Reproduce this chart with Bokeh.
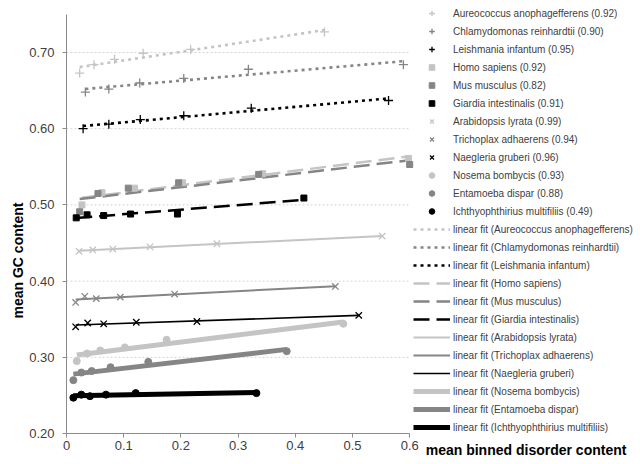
import numpy as np
from bokeh.plotting import figure
from bokeh.models import (Legend, LegendItem, FixedTicker, NumeralTickFormatter, Label)
from bokeh.embed import file_html
from bokeh.resources import INLINE

# ---------------- data ----------------
names = ["Aureococcus anophagefferens", "Chlamydomonas reinhardtii", "Leishmania infantum",
         "Homo sapiens", "Mus musculus", "Giardia intestinalis",
         "Arabidopsis lyrata", "Trichoplax adhaerens", "Naegleria gruberi",
         "Nosema bombycis", "Entamoeba dispar", "Ichthyophthirius multifiliis"]
r_values = ["0.92", "0.90", "0.95", "0.92", "0.82", "0.91",
            "0.99", "0.94", "0.96", "0.93", "0.88", "0.49"]

aur_x = [0.023, 0.048, 0.084, 0.134, 0.217, 0.451]
aur_y = [0.673, 0.684, 0.691, 0.699, 0.704, 0.727]
chl_x = [0.033, 0.074, 0.128, 0.205, 0.318, 0.589]
chl_y = [0.648, 0.652, 0.660, 0.666, 0.678, 0.684]
lei_x = [0.029, 0.074, 0.129, 0.205, 0.323, 0.563]
lei_y = [0.600, 0.606, 0.612, 0.617, 0.627, 0.637]
hom_x = [0.027, 0.062, 0.119, 0.203, 0.343, 0.598]
hom_y = [0.500, 0.516, 0.522, 0.529, 0.541, 0.561]
mus_x = [0.023, 0.055, 0.108, 0.196, 0.336, 0.600]
mus_y = [0.491, 0.515, 0.522, 0.529, 0.540, 0.553]
gia_x = [0.017, 0.036, 0.065, 0.112, 0.194, 0.415]
gia_y = [0.483, 0.487, 0.486, 0.488, 0.488, 0.509]
ara_x = [0.022, 0.046, 0.081, 0.146, 0.263, 0.552]
ara_y = [0.439, 0.441, 0.442, 0.445, 0.449, 0.459]
tri_x = [0.016, 0.032, 0.052, 0.094, 0.189, 0.470]
tri_y = [0.372, 0.380, 0.377, 0.379, 0.383, 0.393]
nae_x = [0.016, 0.037, 0.065, 0.122, 0.228, 0.511]
nae_y = [0.340, 0.345, 0.344, 0.346, 0.347, 0.355]
nos_x = [0.018, 0.036, 0.059, 0.102, 0.175, 0.484]
nos_y = [0.295, 0.305, 0.309, 0.313, 0.323, 0.344]
ent_x = [0.012, 0.026, 0.044, 0.077, 0.143, 0.385]
ent_y = [0.270, 0.280, 0.282, 0.287, 0.294, 0.308]
ich_x = [0.012, 0.026, 0.041, 0.069, 0.121, 0.332]
ich_y = [0.247, 0.251, 0.249, 0.251, 0.253, 0.253]

series_x = [aur_x, chl_x, lei_x, hom_x, mus_x, gia_x, ara_x, tri_x, nae_x, nos_x, ent_x, ich_x]
series_y = [aur_y, chl_y, lei_y, hom_y, mus_y, gia_y, ara_y, tri_y, nae_y, nos_y, ent_y, ich_y]

x_ticks = [0, 0.1, 0.2, 0.3, 0.4, 0.5, 0.6]
y_ticks = [0.2, 0.3, 0.4, 0.5, 0.6, 0.7]
y_top = 0.75

# ---------------- layout (pixels per unit) ----------------
W, H = 640, 464
X0_PX, Y0_PX = 66, 433          # where (0, 0.2) sits on the canvas
PX_X, PX_Y = 572.0, 762.0       # pixels per data unit

p = figure(width=W, height=H, output_backend="svg", toolbar_location=None,
           x_range=(-X0_PX / PX_X, (W - X0_PX) / PX_X),
           y_range=(0.2 - (H - Y0_PX) / PX_Y, 0.2 + Y0_PX / PX_Y),
           min_border=0)
p.outline_line_color = None
p.background_fill_color = "white"
p.grid.visible = False

for ax in (p.xaxis[0], p.yaxis[0]):
    ax.axis_line_color = "#8c8c8c"
    ax.major_tick_line_color = "#8c8c8c"
    ax.minor_tick_line_color = None
    ax.major_tick_in = 0
    ax.major_tick_out = 4
    ax.major_label_text_font = "Liberation Sans"
    ax.major_label_text_font_size = "13px"
    ax.major_label_text_color = "#404040"
p.xaxis.ticker = FixedTicker(ticks=x_ticks)
p.yaxis.ticker = FixedTicker(ticks=y_ticks)
p.xaxis.formatter = NumeralTickFormatter(format="0.[0]")
p.yaxis.formatter = NumeralTickFormatter(format="0.00")
p.xaxis.major_label_standoff = 3
p.yaxis.major_label_standoff = 8
p.xaxis.fixed_location = y_ticks[0]
p.yaxis.fixed_location = x_ticks[0]
p.xaxis.bounds = (x_ticks[0], x_ticks[-1])
p.yaxis.bounds = (y_ticks[0], y_top)

# dotted horizontal gridlines limited to the plot area
p.segment(x0=x_ticks[0], x1=x_ticks[-1], y0=y_ticks[1:], y1=y_ticks[1:],
          line_color="#d4d4d4", line_dash="2 2", line_width=1)

# ---------------- styles ----------------
LIGHT, MID, DARK = "#c4c4c4", "#858585", "#000000"
shades = [LIGHT, MID, DARK] * 4
markers = ["cross"] * 3 + ["square"] * 3 + ["x"] * 3 + ["circle"] * 3
msizes = [9] * 3 + [6] * 3 + [9] * 3 + [7] * 3
line_dashes = ["3 4"] * 3 + ["16 7"] * 3 + ["solid"] * 6
line_widths = [2.6] * 3 + [2.5] * 3 + [2, 2, 1.6] + [5, 5, 5]

scatter_items = []
line_items = []
for i in range(12):
    xs = np.array(series_x[i]); ys = np.array(series_y[i])
    k, b = np.polyfit(xs, ys, 1)
    fx = [xs.min(), xs.max()]
    fy = [k * fx[0] + b, k * fx[1] + b]
    lr = p.line(fx, fy, line_color=shades[i], line_width=line_widths[i],
                line_dash=line_dashes[i])
    line_items.append(LegendItem(label="linear fit (%s)" % names[i], renderers=[lr]))
for i in range(12):
    xs = series_x[i]; ys = series_y[i]
    if markers[i] in ("cross", "x"):
        sr = p.scatter(xs, ys, marker=markers[i], size=msizes[i], line_color=shades[i],
                       line_width=1.3)
    else:
        sr = p.scatter(xs, ys, marker=markers[i], size=msizes[i], fill_color=shades[i],
                       line_color=shades[i])
    scatter_items.append(LegendItem(label="%s (%s)" % (names[i], r_values[i]), renderers=[sr]))

legend = Legend(items=scatter_items + line_items, location=(413, 30),
                glyph_width=37, glyph_height=14, label_height=14, spacing=4,
                padding=0, margin=0, label_standoff=3,
                label_text_font="Liberation Sans", label_text_font_size="10px",
                label_text_color="#404040",
                background_fill_alpha=0, border_line_color=None)
p.add_layout(legend)

p.add_layout(Label(x=0.628, y=0.179, text="mean binned disorder content",
                   text_font="Liberation Sans", text_font_size="14px", text_font_style="bold",
                   text_baseline="middle", text_align="left", text_color="#000000"))
p.add_layout(Label(x=-0.084, y=0.427, text="mean GC content", angle=np.pi / 2,
                   text_font="Liberation Sans", text_font_size="14px", text_font_style="bold",
                   text_baseline="middle", text_align="center", text_color="#000000"))

open("out.html", "w").write(file_html(p, INLINE))
